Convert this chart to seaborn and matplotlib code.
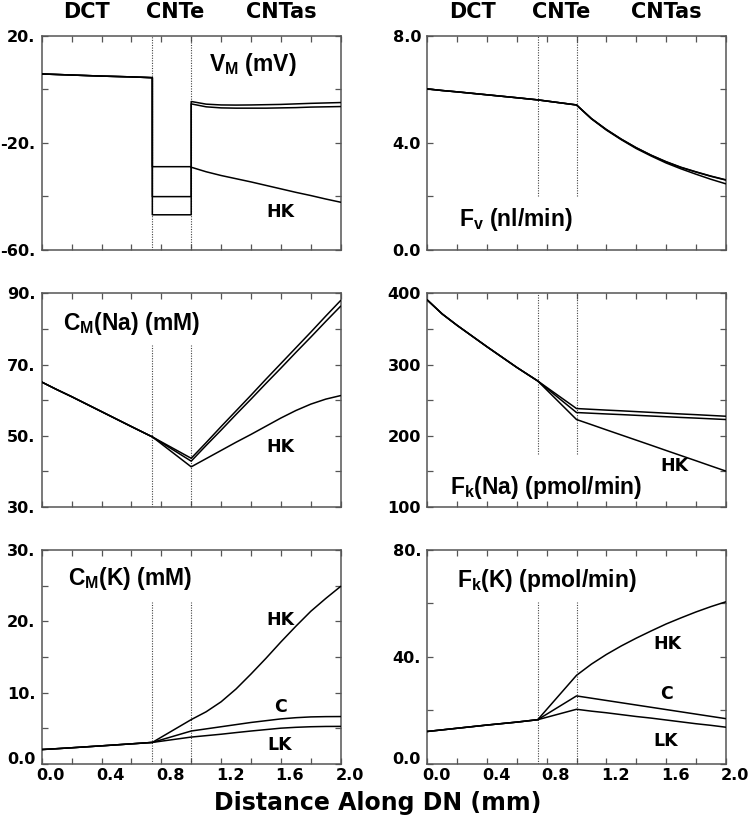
import numpy as np
import pandas as pd
import matplotlib
matplotlib.use("Agg")
import matplotlib.pyplot as plt
import matplotlib.transforms as mtransforms
import seaborn as sns
from matplotlib.ticker import MultipleLocator

# ---------------- data ----------------
series = ["C", "HK", "LK"]
x_dct = [0.0, 0.1, 0.2, 0.4, 0.6, 0.74]
x_cnte = [0.74, 1.0]
x_cntas = [1.0, 1.1, 1.2, 1.3, 1.4, 1.5, 1.6, 1.7, 1.8, 1.9, 2.0]
boundaries = [0.74, 1.0]
segment_names = ["DCT", "CNTe", "CNTas"]
x_tick_vals = [0.0, 0.4, 0.8, 1.2, 1.6, 2.0]
x_tick_labels = ["0.0", "0.4", "0.8", "1.2", "1.6", "2.0"]
x_label = "Distance Along DN (mm)"

# V_M (mV)
vm_dct = [5.8, 5.6, 5.4, 5.0, 4.7, 4.4]
vm_cnte = {"C": [-40.1, -40.1], "HK": [-28.9, -28.9], "LK": [-46.9, -46.9]}
vm_cntas = {"C": [-5.4, -6.5, -6.9, -7.0, -7.0, -7.0, -6.9, -6.8, -6.6, -6.5, -6.4],
            "HK": [-29.1, -30.8, -32.2, -33.4, -34.6, -35.9, -37.2, -38.5, -39.7, -41.0, -42.2],
            "LK": [-4.5, -5.5, -5.8, -5.85, -5.8, -5.7, -5.6, -5.4, -5.2, -5.05, -4.9]}
vm_ticks = [-60, -20, 20]
vm_tick_labels = ["-60.", "-20.", "20."]

# F_v (nl/min)
fv_dct = [6.02, 5.96, 5.91, 5.80, 5.69, 5.61]
fv_cnte = {"C": [5.61, 5.42], "HK": [5.61, 5.42], "LK": [5.61, 5.42]}
fv_cntas = {"C": [5.42, 4.91, 4.50, 4.14, 3.82, 3.54, 3.30, 3.09, 2.92, 2.76, 2.62],
            "HK": [5.42, 4.90, 4.48, 4.12, 3.79, 3.51, 3.25, 3.03, 2.83, 2.64, 2.47],
            "LK": [5.42, 4.91, 4.50, 4.14, 3.82, 3.54, 3.29, 3.08, 2.91, 2.75, 2.61]}
fv_ticks = [0.0, 4.0, 8.0]
fv_tick_labels = ["0.0", "4.0", "8.0"]

# C_M(Na) (mM)
cna_dct = [65.1, 63.0, 61.0, 56.8, 52.6, 49.7]
cna_cnte = {"C": [49.7, 42.9], "HK": [49.7, 41.3], "LK": [49.7, 43.7]}
cna_cntas = {"C": [42.9, 47.3, 51.6, 56.0, 60.3, 64.7, 69.0, 73.4, 77.7, 82.1, 86.4],
             "HK": [41.3, 43.6, 45.9, 48.2, 50.4, 52.7, 55.0, 57.1, 58.9, 60.3, 61.3],
             "LK": [43.7, 48.1, 52.6, 57.0, 61.4, 65.9, 70.3, 74.7, 79.1, 83.6, 88.0]}
cna_ticks = [30, 50, 70, 90]
cna_tick_labels = ["30.", "50.", "70.", "90."]

# F_k(Na) (pmol/min)
fna_dct = [390.6, 371.0, 355.0, 325.0, 296.0, 277.0]
fna_cnte = {"C": [277.0, 232.7], "HK": [277.0, 222.9], "LK": [277.0, 238.3]}
fna_cntas = {"C": [232.7, 231.7, 230.7, 229.8, 228.8, 227.8, 226.8, 225.8, 224.9, 223.9, 222.9],
             "HK": [222.9, 215.7, 208.4, 201.2, 194.0, 186.8, 179.5, 172.3, 165.1, 157.8, 150.6],
             "LK": [238.3, 237.2, 236.1, 235.1, 234.0, 232.9, 231.8, 230.7, 229.7, 228.6, 227.5]}
fna_ticks = [100, 200, 300, 400]
fna_tick_labels = ["100", "200", "300", "400"]

# C_M(K) (mM)
ck_dct = [2.0, 2.12, 2.25, 2.52, 2.8, 3.0]
ck_cnte = {"C": [3.0, 4.6], "HK": [3.0, 6.2], "LK": [3.0, 3.75]}
ck_cntas = {"C": [4.6, 4.9, 5.2, 5.5, 5.8, 6.05, 6.3, 6.47, 6.58, 6.62, 6.63],
            "HK": [6.2, 7.3, 8.7, 10.5, 12.6, 14.8, 17.1, 19.3, 21.4, 23.2, 24.9],
            "LK": [3.75, 3.95, 4.15, 4.38, 4.6, 4.8, 5.0, 5.12, 5.2, 5.24, 5.25]}
ck_ticks = [0, 10, 20, 30]
ck_tick_labels = ["0.0", "10.", "20.", "30."]

# F_k(K) (pmol/min)
fk_dct = [12.1, 12.7, 13.3, 14.5, 15.6, 16.5]
fk_cnte = {"C": [16.5, 25.4], "HK": [16.5, 33.1], "LK": [16.5, 20.4]}
fk_cntas = {"C": [25.4, 24.55, 23.7, 22.85, 22.0, 21.15, 20.3, 19.45, 18.6, 17.75, 16.9],
            "HK": [33.1, 37.3, 40.9, 44.1, 47.0, 49.7, 52.3, 54.6, 56.8, 58.8, 60.6],
            "LK": [20.4, 19.7, 19.1, 18.4, 17.7, 17.1, 16.4, 15.7, 15.0, 14.4, 13.7]}
fk_ticks = [0, 40, 80]
fk_tick_labels = ["0.0", "40.", "80."]


def make_df(dct, cnte, cntas):
    rows = []
    for s in series:
        xs = x_dct + x_cnte + x_cntas
        ys = dct + cnte[s] + cntas[s]
        for xv, yv in zip(xs, ys):
            rows.append({"x": xv, "y": yv, "series": s})
    return pd.DataFrame(rows)


# ---------------- style ----------------
sns.set_theme(style="ticks")
plt.rcParams["font.family"] = ["DejaVu Sans"]
plt.rcParams["font.weight"] = "bold"
plt.rcParams["text.color"] = "black"
plt.rcParams["mathtext.fontset"] = "custom"
plt.rcParams["mathtext.rm"] = "Liberation Sans:bold"
plt.rcParams["mathtext.it"] = "Liberation Sans:bold"
plt.rcParams["mathtext.bf"] = "Liberation Sans:bold"

fig = plt.figure(figsize=(7.5, 8.22), dpi=100)
W, H = 750.0, 822.0
col_left = [41.7, 427.3]
col_w = [299.0, 298.4]
row_top = [36.0, 293.3, 550.0]
row_h = 213.8

panels = [
    (0, 0, vm_dct, vm_cnte, vm_cntas, (-60, 20), vm_ticks, vm_tick_labels, 20,
     (-60, 20), r"V$_\mathrm{M}$ (mV)", (1.12, 9.5), [("HK", 1.50, -45.8)]),
    (0, 1, fv_dct, fv_cnte, fv_cntas, (0, 8), fv_ticks, fv_tick_labels, 2.0,
     (2.0, 8.0), r"F$_\mathrm{v}$ (nl/min)", (0.21, 1.12), []),
    (1, 0, cna_dct, cna_cnte, cna_cntas, (30, 90), cna_ticks, cna_tick_labels, 10,
     (30, 75.5), r"C$_\mathrm{M}$(Na) (mM)", (0.145, 81.6), [("HK", 1.50, 46.9)]),
    (1, 1, fna_dct, fna_cnte, fna_cntas, (100, 400), fna_ticks, fna_tick_labels, 50,
     (175, 400), r"F$_\mathrm{k}$(Na) (pmol/min)", (0.15, 128), [("HK", 1.56, 157)]),
    (2, 0, ck_dct, ck_cnte, ck_cntas, (0, 30), ck_ticks, ck_tick_labels, 5,
     (0, 22.7), r"C$_\mathrm{M}$(K) (mM)", (0.177, 26.0),
     [("HK", 1.50, 20.2), ("C", 1.555, 7.96), ("LK", 1.51, 2.57)]),
    (2, 1, fk_dct, fk_cnte, fk_cntas, (0, 80), fk_ticks, fk_tick_labels, 20,
     (0, 60.6), r"F$_\mathrm{k}$(K) (pmol/min)", (0.197, 68.7),
     [("HK", 1.515, 45.0), ("C", 1.56, 26.3), ("LK", 1.515, 8.7)]),
]

spine_col = "#555555"
xlab_shift = mtransforms.ScaledTranslation(0.09, 0, fig.dpi_scale_trans)
ylab_shift = mtransforms.ScaledTranslation(0, 0.06, fig.dpi_scale_trans)

for (r, c, dct, cnte, cntas, ylim, ticks, tlabels, minor, vspan, title,
     txy, notes) in panels:
    left = col_left[c] / W
    bottom = 1 - (row_top[r] + row_h) / H
    ax = fig.add_axes([left, bottom, col_w[c] / W, row_h / H])
    df = make_df(dct, cnte, cntas)
    ax.vlines(boundaries, vspan[0], vspan[1], colors="#444444",
              linestyles=(0, (1, 1.3)), linewidth=0.8, zorder=1)
    sns.lineplot(data=df, x="x", y="y", units="series", estimator=None,
                 sort=False, color="black", linewidth=1.1, ax=ax,
                 legend=False, zorder=3)
    ax.set_xlim(0, 2)
    ax.set_ylim(*ylim)
    ax.set_xticks(x_tick_vals)
    ax.set_xticklabels(x_tick_labels)
    ax.xaxis.set_minor_locator(MultipleLocator(0.2))
    ax.set_yticks(ticks)
    ax.set_yticklabels(tlabels)
    ax.yaxis.set_minor_locator(MultipleLocator(minor))
    ax.set_xlabel("")
    ax.set_ylabel("")
    ax.tick_params(which="both", direction="in", top=True, right=True,
                   length=4.5, width=0.9, color=spine_col, labelsize=11.6,
                   labelcolor="black")
    ax.tick_params(axis="y", pad=4.5)
    ax.tick_params(axis="x", pad=3)
    for lbl in ax.get_xticklabels() + ax.get_yticklabels():
        lbl.set_fontweight("bold")
        lbl.set_fontfamily("DejaVu Sans")
    if r < 2:
        ax.tick_params(axis="x", labelbottom=False)
    else:
        for lbl in ax.get_xticklabels():
            lbl.set_transform(lbl.get_transform() + xlab_shift)
        y0 = ax.get_yticklabels()[0]
        y0.set_transform(y0.get_transform() + ylab_shift)
    for sp in ax.spines.values():
        sp.set_color(spine_col)
        sp.set_linewidth(1.1)
    ax.text(txy[0], txy[1], title, fontsize=16.5, fontweight="bold",
            family="Liberation Sans", color="black", ha="left", va="center")
    for lab, lx, ly in notes:
        ax.text(lx, ly, lab, fontsize=12.5, fontweight="bold", ha="left",
                va="center", color="black")
    if r == 0:
        for name, nx in zip(segment_names, [0.30, 0.895, 1.605]):
            ax.text(nx, 1.112, name, transform=ax.get_xaxis_transform(),
                    fontsize=15, fontweight="bold", ha="center", va="center",
                    color="black")

fig.text(378 / W, 1 - 809.5 / H, x_label, fontsize=17, fontweight="bold",
         ha="center", va="baseline", color="black")

fig.savefig("out.png", dpi=100)
